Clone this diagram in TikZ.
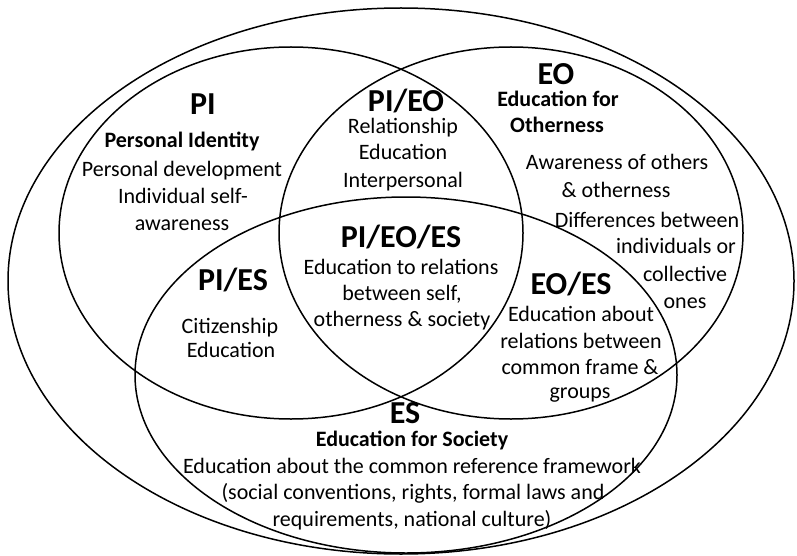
\documentclass[tikz,border=0pt]{standalone}
\usepackage{fontspec}
\setmainfont{Carlito}
\begin{document}
\begin{tikzpicture}[x=1pt,y=-1pt,
  ell/.style={line width=1.5pt},
  hd/.style={font=\fontsize{32}{38}\selectfont\bfseries, anchor=base, inner sep=0pt, text depth=0pt},
  sub/.style={font=\fontsize{22}{27}\selectfont\bfseries, anchor=base, inner sep=0pt},
  body/.style={font=\fontsize{22}{27}\selectfont, anchor=base, inner sep=0pt}]
\useasboundingbox (0,0) rectangle (797,556);
% circles
\draw[ell] (401,281) ellipse [x radius=393pt, y radius=273pt];
\draw[ell] (291,233) ellipse [x radius=232pt, y radius=186pt];
\draw[ell] (511,233) ellipse [x radius=232pt, y radius=186pt];
\draw[ell] (406,375) ellipse [x radius=271pt, y radius=178pt];
% PI
\node[hd] (pi) at (203,115) {PI};
\node[sub] (pi1) at (182,148) {Personal Identity};
\node[body] (pi2) at (182,177) {Personal development};
\node[body] (pi3) at (183,203) {Individual self-};
\node[body] (pi4) at (182,230) {awareness};
% PI/EO
\node[hd] (pieo) at (406,112) {PI/EO};
\node[body] (pieo1) at (403,134) {Relationship};
\node[body] (pieo2) at (403,160) {Education};
\node[body] (pieo3) at (403,187) {Interpersonal};
% EO
\node[hd] (eo) at (556,85) {EO};
\node[sub] (eo1) at (558,107) {Education for};
\node[sub] (eo2) at (557,133) {Otherness};
\node[body] (eo3) at (617,170) {Awareness of others};
\node[body] (eo4) at (616,197) {\& otherness};
\node[body] (eo5) at (647,227) {Differences between};
\node[body] (eo6) at (676,253) {individuals or};
\node[body] (eo7) at (685,281) {collective};
\node[body] (eo8) at (685,308) {ones};
% PI/EO/ES
\node[hd] (all) at (401,247) {PI/EO/ES};
\node[body] (all1) at (401,274) {Education to relations};
\node[body] (all2) at (402,300) {between self,};
\node[body] (all3) at (402,326) {otherness \& society};
% PI/ES
\node[hd] (pies) at (233,290) {PI/ES};
\node[body] (pies1) at (230,333) {Citizenship};
\node[body] (pies2) at (231,357) {Education};
% EO/ES
\node[hd] (eoes) at (571,294) {EO/ES};
\node[body] (eoes1) at (581,321) {Education about};
\node[body] (eoes2) at (581,348) {relations between};
\node[body] (eoes3) at (580,374) {common frame \&};
\node[body] (eoes4) at (580,398) {groups};
% ES
\node[hd] (es) at (405,423) {ES};
\node[sub] (es1) at (412,446) {Education for Society};
\node[body] (es2) at (412,473) {Education about the common reference framework};
\node[body] (es3) at (413,499) {(social conventions, rights, formal laws and};
\node[body] (es4) at (412,526) {requirements, national culture)};
\end{tikzpicture}
\end{document}
